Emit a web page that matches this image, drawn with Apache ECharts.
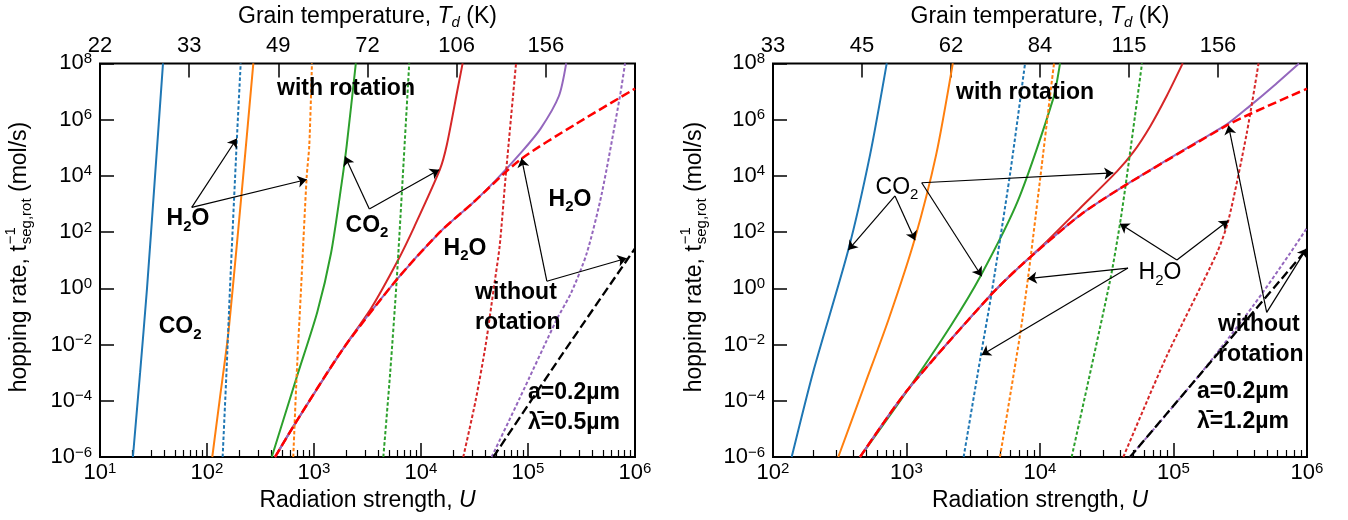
<!DOCTYPE html>
<html><head><meta charset="utf-8">
<script src="https://cdn.jsdelivr.net/npm/echarts@6/dist/echarts.min.js"></script>
<style>html,body{margin:0;padding:0;background:#fff}#c{width:1348px;height:520px}</style>
</head><body><div id="c"></div>
<script>
const FONT = "'Liberation Sans', Arial, Helvetica, sans-serif";
const COL = {blue:'#1f77b4', orange:'#ff7f0e', green:'#2ca02c', red:'#d62728', purple:'#9467bd', bright:'#ff0000', black:'#000000'};

// ---- axis ticks / labels ----
const X_DECADES_L = [1e1, 1e2, 1e3, 1e4, 1e5, 1e6];
const X_DECADES_R = [1e2, 1e3, 1e4, 1e5, 1e6];
const Y_TICKS = [1e-6, 1e-4, 1e-2, 1, 1e2, 1e4, 1e6, 1e8];
const TEMP_LABELS_L = ['22', '33', '49', '72', '106', '156', ''];
const TEMP_LABELS_R = ['33', '45', '62', '84', '115', '156', ''];

// ---- left panel curves [U, rate] ----
const L_BLUE_SOLID   = [[20.3,1e-6],[23.7,1e-3],[27.5,1],[32.7,1e4],[38.8,1e8]];
const L_ORANGE_SOLID = [[112,1e-6],[131,1e-4],[156,0.0158],[174,1],[218,1e4],[271,1e8]];
const L_GREEN_SOLID  = [[403,1e-6],[701.5,8.5e-4],[1072,0.141],[1442,17.6],[1807,4955],[2023,1.245e5],[2460,1e8]];
const L_RED_SOLID    = [[432.5,1e-6],[663.7,1.51e-5],[1879,7.24e-3],[3428,0.199],[6109,10.2],[8630,151],[15000,1.66e4],[17420,1.245e5],[21980,1.2e7],[24490,1e8]];
const L_PURPLE_SOLID = [[432.5,1e-6],[663.7,1.51e-5],[1879,7.24e-3],[5929,2.04],[15070,100.9],[30830,1132],[49320,6607],[87700,7.244e4],[131200,4.79e5],[194500,6.92e6],[227500,1e8]];
const L_BLUE_DOT     = [[140,1e-6],[152,1e-3],[164,1],[190,1.86e5],[206.5,1e8]];
const L_ORANGE_DOT   = [[640,1e-6],[689,8.5e-4],[757,1],[853,8510],[904,1.26e5],[957,1e8]];
const L_GREEN_DOT    = [[4446,1e-6],[5152,1e-3],[5929,2.0],[6761,1e4],[7762,1e8]];
const L_RED_DOT      = [[24830,1e-6],[32360,1e-4],[40270,1e-2],[47860,1],[54330,31.6],[61660,8510],[77270,1e8]];
const L_PURPLE_DOT   = [[45710,1e-6],[84140,1.29e-4],[186600,0.0813],[253500,0.70],[354000,17.6],[487500,2213],[724400,7.0e6],[807200,1e8]];
const L_RED_DASH     = [[432.5,1e-6],[663.7,1.51e-5],[1879,7.24e-3],[5929,2.04],[15070,100.9],[30830,1132],[84140,3.715e4],[281800,7.08e5],[1e6,1.26e7]];
const L_BLACK_DASH   = [[47420,1e-6],[199500,3.47e-3],[1e6,26.3]];

// ---- right panel curves [U, rate] ----
const R_BLUE_SOLID   = [[138,1e-6],[200.4,1.109e-3],[366.4,22.9],[533.3,5.56e4],[711.2,1e8]];
const R_ORANGE_SOLID = [[308.3,1e-6],[487.5,3.8e-4],[736.2,0.0813],[1146,51.3],[1667,5.56e4],[2223,1e8]];
const R_GREEN_SOLID  = [[448.7,1e-6],[1007,2.21e-4],[2153,0.0479],[3581,2.69],[6823,1288],[12530,5.37e6],[14130,1e8]];
const R_RED_SOLID    = [[448.7,1e-6],[1002,2.21e-4],[4217,0.537],[7079,6.03],[10590,35.5],[19950,708],[37580,1.413e4],[50120,7.08e4],[66680,5.62e5],[89130,7.08e6],[117200,1e8]];
const R_PURPLE_SOLID = [[448.7,1e-6],[1002,2.21e-4],[4217,0.537],[7079,6.03],[19950,400],[44570,4955],[158500,1.862e5],[250600,6.76e5],[374100,3.09e6],[562300,1.585e7],[871000,1e8]];
const R_BLUE_DOT     = [[2679,1e-6],[3573,3.24e-3],[4345,0.70],[5957,1.109e4],[7727,1e8]];
const R_ORANGE_DOT   = [[5012,1e-6],[7079,0.0214],[8166,2.69],[10000,7079],[11890,7.0e6],[12740,1e8]];
const R_GREEN_DOT    = [[17260,1e-6],[33420,1.795],[39720,197],[44570,8510],[58080,1e8]];
const R_RED_DOT      = [[42070,1e-6],[89130,3.98e-3],[210900,17.6],[257600,257],[353200,3.16e5],[433500,1e8]];
const R_PURPLE_DOT   = [[47210,1e-6],[158500,8.9e-4],[398100,0.251],[746400,17.6],[1e6,141]];
const R_RED_DASH     = [[448.7,1e-6],[1002,2.21e-4],[4217,0.537],[7079,6.03],[19950,400],[44570,4955],[250600,6.24e5],[374100,1.585e6],[1e6,1.26e7]];
const R_BLACK_DASH   = [[47210,1e-6],[199500,3.16e-3],[1e6,25]];

// ---- annotations: [text, U, rate, align] and arrows [[from],[to]] ----
const ANN_TEXT_L = [
  ['{b|with rotation}', 1990, 1.23e7, 'center'],
  ['{b|H}{bs|2}{b|O}', 66.4, 295, 'center'],
  ['{b|CO}{bs|2}', 3126, 168, 'center'],
  ['{b|H}{bs|2}{b|O}', 25800, 26.3, 'center'],
  ['{b|H}{bs|2}{b|O}', 2.47e5, 1480, 'center'],
  ['{b|without}\n{b|rotation}', 32000, 0.209, 'left'],
  ['{b|CO}{bs|2}', 56, 0.0417, 'center'],
  ['{b|a=0.2\u00b5m}\n{b|\u03bb\u0304=0.5\u00b5m}', 1e5, 5.6e-5, 'left']
];
const ARROWS_L = [
  [[72,757],[190,2.14e5]], [[72,757],[855,7.4e3]],
  [[3290,661],[1950,4.84e4]], [[3290,661],[14800,1.66e4]],
  [[1.5e5,1.79],[8.7e4,4.27e4]], [[1.5e5,1.79],[8.36e5,11.7]]
];
const ANN_TEXT_R = [
  ['{b|with rotation}', 7730, 9.1e6, 'center'],
  ['{n|CO}{ns|2}', 849, 3900, 'center'],
  ['{n|H}{ns|2}{n|O}', 79200, 3.51, 'center'],
  ['{b|without}\n{b|rotation}', 215300, 0.0146, 'left'],
  ['{b|a=0.2\u00b5m}\n{b|\u03bb\u0304=1.2\u00b5m}', 150000, 6.1e-5, 'left']
];
const ARROWS_R = [
  [[820,1928],[366,23]], [[820,1928],[1159,51]],
  [[1300,5680],[35400,1.27e4]], [[1300,5680],[3656,2.69]],
  [[45600,5.25],[8100,2.2]], [[45600,5.25],[3656,4.27e-3]],
  [[1.06e5,10.2],[39700,197]], [[1.06e5,10.2],[2.58e5,257]],
  [[4.99e5,0.14],[2.58e5,6.2e5]], [[4.99e5,0.14],[9.95e5,26.3]]
];

// ---- helpers ----
function minorTicks(dec){ const out=[]; for(let i=0;i<dec.length-1;i++) for(let k=2;k<=9;k++) out.push(dec[i]*k); return out; }
function nudge(vals, lo, hi){ return vals.map(v => v<=lo ? lo*(1+1e-9) : (v>=hi ? hi*(1-1e-9) : v)); }
function powLabel(v){ const e=Math.round(Math.log10(v)); return '{b|10}{s|'+(e<0?'\u2212'+(-e):String(e))+'}'; }

const TICK_RICH = {
  b:{fontSize:22, lineHeight:24, fontFamily:FONT, color:'#000'},
  s:{fontSize:15, lineHeight:10, verticalAlign:'top', fontFamily:FONT, color:'#000'}
};
const ANN_RICH = {
  b:{fontSize:23, fontWeight:'bold', lineHeight:30, fontFamily:FONT, fill:'#000'},
  bs:{fontSize:15, fontWeight:'bold', lineHeight:15, verticalAlign:'bottom', fontFamily:FONT, fill:'#000'},
  n:{fontSize:23, lineHeight:30, fontFamily:FONT, fill:'#000'},
  ns:{fontSize:15, lineHeight:15, verticalAlign:'bottom', fontFamily:FONT, fill:'#000'}
};
const NAME_STYLE = {color:'#000', fontFamily:FONT, fontSize:23, rich:{
  n:{fontSize:23, lineHeight:28, fontFamily:FONT, color:'#000'},
  i:{fontSize:23, lineHeight:28, fontStyle:'italic', fontFamily:FONT, color:'#000'},
  is:{fontSize:15, lineHeight:15, fontStyle:'italic', verticalAlign:'bottom', fontFamily:FONT, color:'#000'}
}};
const TICK_LINE = {color:'#000', width:1.5};

const GRIDS = [
  {left:100, top:57, width:535, height:400},
  {left:773, top:57, width:534, height:400}
];

function xAxesFor(gi, min, max, decades, temps){
  return [
    {type:'log', logBase:10, gridIndex:gi, min, max, position:'bottom',
     axisLine:{show:false, onZero:false}, splitLine:{show:false},
     axisTick:{show:true, inside:true, length:14, lineStyle:TICK_LINE, customValues:nudge(decades,min,max)},
     axisLabel:{show:true, customValues:nudge(decades,min,max), margin:4, formatter:powLabel, rich:TICK_RICH, showMinLabel:true, showMaxLabel:true},
     name:'{n|Radiation strength, }{i|U}', nameLocation:'middle', nameGap:29, nameTextStyle:NAME_STYLE},
    {type:'log', logBase:10, gridIndex:gi, min, max, position:'bottom',
     axisLine:{show:false, onZero:false}, splitLine:{show:false},
     axisTick:{show:true, inside:true, length:7, lineStyle:{color:'#000', width:1.2}, customValues:minorTicks(decades)},
     axisLabel:{show:false}},
    {type:'value', gridIndex:gi, min:0, max:6, interval:1, position:'top',
     axisLine:{show:false, onZero:false}, splitLine:{show:false},
     axisTick:{show:true, inside:true, length:14, lineStyle:TICK_LINE},
     axisLabel:{show:true, margin:6, fontSize:22, fontFamily:FONT, color:'#000', showMinLabel:true, showMaxLabel:true,
       formatter:v => temps[Math.round(v)] || ''},
     name:'{n|Grain temperature, }{i|T}{is|d}{n| (K)}', nameLocation:'middle', nameGap:30, nameTextStyle:NAME_STYLE}
  ];
}
function yAxisFor(gi){
  return {type:'log', logBase:10, gridIndex:gi, min:1e-6, max:1e8, position:'left',
    axisLine:{show:false, onZero:false}, splitLine:{show:false},
    axisTick:{show:true, inside:true, length:14, lineStyle:TICK_LINE, customValues:nudge(Y_TICKS,1e-6,1e8)},
    axisLabel:{show:true, customValues:nudge(Y_TICKS,1e-6,1e8), margin:8, formatter:powLabel, rich:TICK_RICH, showMinLabel:true, showMaxLabel:true}};
}

const DOT=[3.5,2.2], DASH=[9,4];
function curve(data, color, dash, width, gi, z){
  return {type:'line', xAxisIndex:gi*3, yAxisIndex:gi, data, symbol:'none', showSymbol:false,
    smooth:0.25, clip:true, silent:true, z, lineStyle:{color, width, type:dash||'solid', cap:'butt'}};
}
// anchor series: carries the annotation anchor points (invisible) and the arrows
function annSeries(gi, texts, arrows){
  return {type:'scatter', xAxisIndex:gi*3, yAxisIndex:gi, symbolSize:0, itemStyle:{color:'#000'}, silent:true, z:10,
    data: texts.map(t => [t[1], t[2]]), label:{show:false},
    markLine:{silent:true, animation:false, symbol:['none','arrow'], symbolSize:9, label:{show:false},
      lineStyle:{color:'#000', width:1.2, type:'solid', opacity:1}, emphasis:{disabled:true},
      data: arrows.map(a => [{coord:a[0], symbol:'none'}, {coord:a[1], symbol:'arrow', symbolSize:9}])}};
}
function panelSeries(gi, d){
  return [
    curve(d.bs, COL.blue, null, 2, gi, 3), curve(d.os, COL.orange, null, 2, gi, 3), curve(d.gs, COL.green, null, 2, gi, 3),
    curve(d.rs, COL.red, null, 2, gi, 3), curve(d.ps, COL.purple, null, 2, gi, 3),
    curve(d.bd, COL.blue, DOT, 2, gi, 4), curve(d.od, COL.orange, DOT, 2, gi, 4), curve(d.gd, COL.green, DOT, 2, gi, 4),
    curve(d.rd, COL.red, DOT, 2, gi, 4), curve(d.pd, COL.purple, DOT, 2, gi, 4),
    curve(d.rdash, COL.bright, DASH, 2.5, gi, 5), curve(d.kdash, COL.black, DASH, 2.3, gi, 5)
  ];
}

function yTitle(cx, cy){
  const ctx = document.createElement('canvas').getContext('2d');
  const tw = (s, sz) => { ctx.font = sz + 'px ' + FONT; return ctx.measureText(s).width; };
  const a = 'hopping rate, t', sub = 'seg,rot', sup = '\u22121', c = ' (mol/s)';
  const wa = tw(a,23), ws = tw(sub,15), wp = tw(sup,15), wc = tw(c,23);
  const wmid = Math.max(ws, wp) + 1;
  const total = wa + wmid + wc, x0 = -total/2;
  const mk = (text, x, y, sz) => ({type:'text', x, y, silent:true,
    style:{text, font: sz + 'px ' + FONT, fill:'#000', textAlign:'left', textVerticalAlign:'middle'}});
  return {type:'group', x:cx, y:cy, rotation:Math.PI/2,
    children:[mk(a, x0, 0, 23), mk(sub, x0+wa+1, 7, 15), mk(sup, x0+wa+1, -9, 15), mk(c, x0+wa+wmid, 0, 23)]};
}

const chart = echarts.init(document.getElementById('c'), null, {renderer:'canvas'});
const SERIES = [].concat(
  panelSeries(0, {bs:L_BLUE_SOLID, os:L_ORANGE_SOLID, gs:L_GREEN_SOLID, rs:L_RED_SOLID, ps:L_PURPLE_SOLID,
    bd:L_BLUE_DOT, od:L_ORANGE_DOT, gd:L_GREEN_DOT, rd:L_RED_DOT, pd:L_PURPLE_DOT, rdash:L_RED_DASH, kdash:L_BLACK_DASH}),
  panelSeries(1, {bs:R_BLUE_SOLID, os:R_ORANGE_SOLID, gs:R_GREEN_SOLID, rs:R_RED_SOLID, ps:R_PURPLE_SOLID,
    bd:R_BLUE_DOT, od:R_ORANGE_DOT, gd:R_GREEN_DOT, rd:R_RED_DOT, pd:R_PURPLE_DOT, rdash:R_RED_DASH, kdash:R_BLACK_DASH}),
  [annSeries(0, ANN_TEXT_L, ARROWS_L), annSeries(1, ANN_TEXT_R, ARROWS_R)]
);
const ANN_SERIES_INDEX = [SERIES.length - 2, SERIES.length - 1];
chart.setOption({
  animation:false,
  backgroundColor:'#fff',
  grid: GRIDS.map(g => Object.assign({show:true, borderColor:'#000', borderWidth:2, backgroundColor:'transparent'}, g)),
  xAxis: [].concat(xAxesFor(0, 10, 1e6, X_DECADES_L, TEMP_LABELS_L), xAxesFor(1, 100, 1e6, X_DECADES_R, TEMP_LABELS_R)),
  yAxis: [yAxisFor(0), yAxisFor(1)],
  series: SERIES
});

// annotation texts placed at data positions through the chart's own scales
function annTexts(si, texts){
  return texts.map(t => {
    const p = chart.convertToPixel({seriesIndex: si}, [t[1], t[2]]);
    return {type:'text', x:p[0], y:p[1], silent:true, z:20,
      style:{text:t[0], rich:ANN_RICH, font:'23px ' + FONT, fill:'#000', textAlign:t[3], textVerticalAlign:'middle'}};
  });
}
chart.setOption({
  graphic: [].concat(
    [yTitle(GRIDS[0].left - 80, GRIDS[0].top + GRIDS[0].height/2), yTitle(GRIDS[1].left - 78, GRIDS[1].top + GRIDS[1].height/2)],
    annTexts(ANN_SERIES_INDEX[0], ANN_TEXT_L), annTexts(ANN_SERIES_INDEX[1], ANN_TEXT_R)
  )
});
</script></body></html>
